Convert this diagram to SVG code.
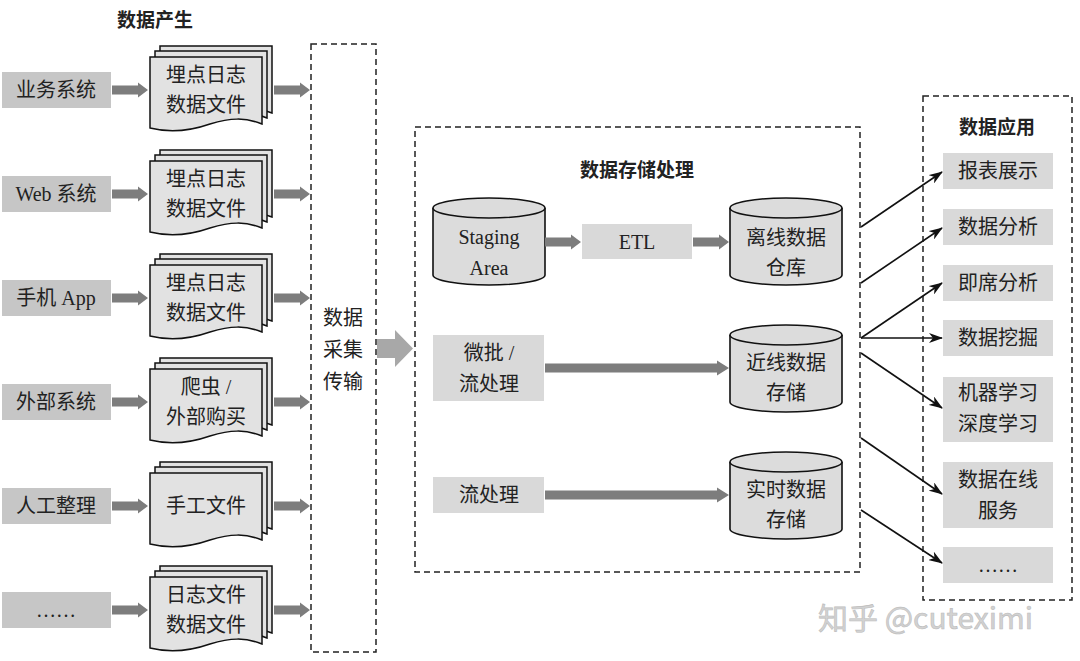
<svg xmlns="http://www.w3.org/2000/svg" xmlns:xlink="http://www.w3.org/1999/xlink" width="1080" height="661" viewBox="0 0 1080 661">
<style>
text{font-family:"Liberation Serif","Noto Sans CJK SC",serif;font-size:20px;fill:#222;text-anchor:middle;dominant-baseline:central}
.title{font-family:"Noto Sans CJK SC",sans-serif;font-weight:bold;font-size:19px}
.src{fill:#c6c6c6}
.box{fill:#d9d9d9}
.dash{fill:none;stroke:#222;stroke-width:1.5;stroke-dasharray:6 4}
.garrow{fill:#7d7d7d}
.big{fill:#a8a8a8}
.thin{stroke:#111;stroke-width:1.6;fill:none;marker-end:url(#ah)}
.page{fill:#e2e2e2;stroke:#111;stroke-width:1.5}
.cyl{fill:#dcdcdc;stroke:#111;stroke-width:1.6}
.wm{font-family:"Noto Sans CJK SC",sans-serif;font-size:30px;fill:#d2d2d2;stroke:#bdbdbd;stroke-width:0.6;text-anchor:start}
</style>
<defs>
<marker id="ah" markerWidth="14" markerHeight="10" refX="13" refY="5" orient="auto" markerUnits="userSpaceOnUse">
<path d="M0,0 L14,5 L0,10 L4,5 Z" fill="#111"/>
</marker>
<path id="sarrow" d="M0,-4.5 H26 V-7.5 L36,0 L26,7.5 V4.5 H0 Z"/>
<path id="page" d="M0,0 H112 V67 C95,60 80,61 60,67 C40,74 20,76 0,71 Z"/>
<g id="docstack">
<use xlink:href="#page" class="page" x="10" y="-11"/>
<use xlink:href="#page" class="page" x="5" y="-6"/>
<use xlink:href="#page" class="page"/>
</g>
<g id="cylinder">
<path class="cyl" d="M0,10 A56,10 0 0 1 112,10 V77 A56,10 0 0 1 0,77 Z"/>
<path class="cyl" fill="none" d="M0,10 A56,10 0 0 0 112,10"/>
</g>
</defs>
<rect width="1080" height="661" fill="#fff"/>

<text class="title" x="155" y="18">数据产生</text>

<g id="src-1"><rect class="src" x="2" y="72" width="109" height="36"/><text x="56" y="90">业务系统</text></g>
<g id="src-2"><rect class="src" x="2" y="176" width="109" height="36"/><text x="56" y="194">Web 系统</text></g>
<g id="src-3"><rect class="src" x="2" y="280" width="109" height="36"/><text x="56" y="298">手机 App</text></g>
<g id="src-4"><rect class="src" x="2" y="384" width="109" height="36"/><text x="56" y="402">外部系统</text></g>
<g id="src-5"><rect class="src" x="2" y="488" width="109" height="36"/><text x="56" y="506">人工整理</text></g>
<g id="src-6"><rect class="src" x="2" y="592" width="109" height="36"/><text x="56" y="610">……</text></g>

<g id="doc-1"><use xlink:href="#docstack" x="150" y="57"/><text x="206" y="75">埋点日志</text><text x="206" y="105">数据文件</text></g>
<g id="doc-2"><use xlink:href="#docstack" x="150" y="161"/><text x="206" y="179">埋点日志</text><text x="206" y="209">数据文件</text></g>
<g id="doc-3"><use xlink:href="#docstack" x="150" y="265"/><text x="206" y="283">埋点日志</text><text x="206" y="313">数据文件</text></g>
<g id="doc-4"><use xlink:href="#docstack" x="150" y="369"/><text x="206" y="387">爬虫 /</text><text x="206" y="417">外部购买</text></g>
<g id="doc-5"><use xlink:href="#docstack" x="150" y="473"/><text x="206" y="506">手工文件</text></g>
<g id="doc-6"><use xlink:href="#docstack" x="150" y="577"/><text x="206" y="595">日志文件</text><text x="206" y="625">数据文件</text></g>

<g id="collect"><rect class="dash" x="311" y="44" width="65" height="608"/><text x="343" y="318">数据</text><text x="343" y="350">采集</text><text x="343" y="382">传输</text></g>

<g id="storage">
<rect class="dash" x="415" y="127" width="445" height="445"/>
<text class="title" x="637" y="168">数据存储处理</text>
</g>
<g id="staging"><use xlink:href="#cylinder" x="433" y="198"/><text x="489" y="237">Staging</text><text x="489" y="268">Area</text></g>
<g id="etl"><rect class="box" x="582" y="224" width="110" height="35"/><text x="637" y="242">ETL</text></g>
<g id="offline"><use xlink:href="#cylinder" x="730" y="198"/><text x="786" y="238">离线数据</text><text x="786" y="268">仓库</text></g>
<g id="microbatch"><rect class="box" x="433" y="335" width="111" height="66"/><text x="489" y="353">微批 /</text><text x="489" y="384">流处理</text></g>
<g id="nearline"><use xlink:href="#cylinder" x="730" y="325"/><text x="786" y="363">近线数据</text><text x="786" y="393">存储</text></g>
<g id="stream"><rect class="box" x="433" y="477" width="111" height="36"/><text x="489" y="495">流处理</text></g>
<g id="realtime"><use xlink:href="#cylinder" x="730" y="452"/><text x="786" y="490">实时数据</text><text x="786" y="520">存储</text></g>

<g id="apps">
<rect class="dash" x="923" y="96" width="149" height="504"/>
<text class="title" x="997" y="125">数据应用</text>
</g>
<g id="app-1"><rect class="box" x="943" y="153" width="110" height="36"/><text x="998" y="171">报表展示</text></g>
<g id="app-2"><rect class="box" x="943" y="209" width="110" height="36"/><text x="998" y="227">数据分析</text></g>
<g id="app-3"><rect class="box" x="943" y="265" width="110" height="36"/><text x="998" y="283">即席分析</text></g>
<g id="app-4"><rect class="box" x="943" y="320" width="110" height="36"/><text x="998" y="338">数据挖掘</text></g>
<g id="app-5"><rect class="box" x="943" y="377" width="110" height="65"/><text x="998" y="393">机器学习</text><text x="998" y="424">深度学习</text></g>
<g id="app-6"><rect class="box" x="943" y="462" width="110" height="66"/><text x="998" y="480">数据在线</text><text x="998" y="511">服务</text></g>
<g id="app-7"><rect class="box" x="943" y="547" width="110" height="36"/><text x="998" y="565">……</text></g>

<g id="connectors">
<use xlink:href="#sarrow" class="garrow" x="112" y="90"/>
<use xlink:href="#sarrow" class="garrow" x="112" y="194"/>
<use xlink:href="#sarrow" class="garrow" x="112" y="298"/>
<use xlink:href="#sarrow" class="garrow" x="112" y="402"/>
<use xlink:href="#sarrow" class="garrow" x="112" y="506"/>
<use xlink:href="#sarrow" class="garrow" x="112" y="610"/>
<use xlink:href="#sarrow" class="garrow" x="274" y="90"/>
<use xlink:href="#sarrow" class="garrow" x="274" y="194"/>
<use xlink:href="#sarrow" class="garrow" x="274" y="298"/>
<use xlink:href="#sarrow" class="garrow" x="274" y="402"/>
<use xlink:href="#sarrow" class="garrow" x="274" y="506"/>
<use xlink:href="#sarrow" class="garrow" x="274" y="610"/>
<path class="big" d="M377,339 H395 V330 L413,348.5 L395,367 V358 H377 Z"/>
<use xlink:href="#sarrow" class="garrow" x="545" y="242"/>
<use xlink:href="#sarrow" class="garrow" x="693" y="242"/>
<path class="garrow" d="M545,363.5 H717 V360.5 L729,368 L717,375.5 V372.5 H545 Z"/>
<path class="garrow" d="M545,490.5 H717 V487.5 L729,495 L717,502.5 V499.5 H545 Z"/>
<line class="thin" x1="861" y1="227" x2="942" y2="172"/>
<line class="thin" x1="861" y1="283" x2="942" y2="228"/>
<line class="thin" x1="861" y1="338" x2="942" y2="283"/>
<line class="thin" x1="861" y1="338" x2="942" y2="338"/>
<line class="thin" x1="861" y1="353" x2="942" y2="408"/>
<line class="thin" x1="861" y1="438" x2="942" y2="494"/>
<line class="thin" x1="861" y1="510" x2="942" y2="563"/>
</g>

<text class="wm" x="818" y="616">知乎 @cuteximi</text>
</svg>
